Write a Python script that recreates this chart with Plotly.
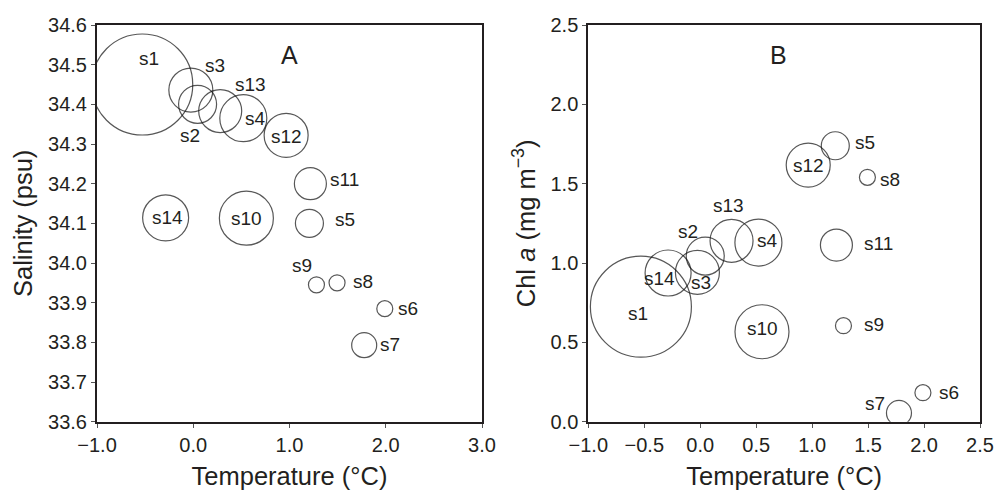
import plotly.graph_objects as go

stations = ["s1", "s2", "s3", "s4", "s5", "s6", "s7", "s8", "s9", "s10", "s11", "s12", "s13", "s14"]
temperature = [-0.53, 0.045, -0.025, 0.52, 1.207, 1.99, 1.776, 1.494, 1.28, 0.552, 1.217, 0.965, 0.28, -0.287]
salinity = [34.45, 34.40, 34.436, 34.365, 34.10, 33.885, 33.793, 33.95, 33.945, 34.113, 34.20, 34.322, 34.383, 34.114]
chl_a = [0.725, 1.044, 0.941, 1.129, 1.739, 0.183, 0.055, 1.54, 0.605, 0.567, 1.113, 1.617, 1.14, 0.937]
bubble_value = [10.1, 3.8, 4.4, 4.7, 2.8, 1.6, 2.5, 1.6, 1.6, 5.4, 3.2, 4.4, 4.3, 4.6]

x_ticks_a = [-1.0, 0.0, 1.0, 2.0, 3.0]
y_ticks_a = [33.6, 33.7, 33.8, 33.9, 34.0, 34.1, 34.2, 34.3, 34.4, 34.5, 34.6]
x_ticks_b = [-1.0, -0.5, 0.0, 0.5, 1.0, 1.5, 2.0, 2.5]
y_ticks_b = [0.0, 0.5, 1.0, 1.5, 2.0, 2.5]

# label offsets (pixels) per station for each panel
shift_a = {"s1": (7, 26), "s2": (-8, -31), "s3": (24, 25), "s4": (12, 0), "s5": (36, 4),
           "s6": (23, 0), "s7": (26, 1), "s8": (26, 1), "s9": (-14, 19), "s10": (0, 0),
           "s11": (34, 4), "s12": (0, -1), "s13": (30, 27), "s14": (2, 0)}
shift_b = {"s1": (-3, -7), "s2": (-17, 25), "s3": (4, -10), "s4": (9, 2), "s5": (30, 3),
           "s6": (26, 0), "s7": (-24, 9), "s8": (23, -2), "s9": (31, 1), "s10": (1, 3),
           "s11": (42, 2), "s12": (0, 0), "s13": (-3, 35), "s14": (-9, -5)}

INK = "#231f20"
FONT = "Liberation Sans, Arial, Helvetica, sans-serif"

W, H = 998, 490

fig = go.Figure()
marker = dict(size=bubble_value, sizemode="diameter", sizeref=0.1,
              color="rgba(0,0,0,0)", line=dict(color="#111111", width=1.2))
fig.add_trace(go.Scatter(x=temperature, y=salinity, mode="markers", marker=marker,
                         xaxis="x", yaxis="y", showlegend=False, hoverinfo="text", text=stations))
fig.add_trace(go.Scatter(x=temperature, y=chl_a, mode="markers", marker=marker,
                         xaxis="x2", yaxis="y2", showlegend=False, hoverinfo="text", text=stations))

annotations = []
for i, s in enumerate(stations):
    dx, dy = shift_a[s]
    annotations.append(dict(x=temperature[i], y=salinity[i], xref="x", yref="y", text=s,
                            showarrow=False, xshift=dx, yshift=dy,
                            xanchor="center", yanchor="middle",
                            font=dict(size=19, color=INK, family=FONT)))
    dx, dy = shift_b[s]
    annotations.append(dict(x=temperature[i], y=chl_a[i], xref="x2", yref="y2", text=s,
                            showarrow=False, xshift=dx, yshift=dy,
                            xanchor="center", yanchor="middle",
                            font=dict(size=19, color=INK, family=FONT)))
annotations.append(dict(x=0.501, y=0.924, xref="x domain", yref="y domain", text="A",
                        showarrow=False, xanchor="center", yanchor="middle",
                        font=dict(size=25, color=INK, family=FONT)))
annotations.append(dict(x=0.485, y=0.924, xref="x2 domain", yref="y2 domain", text="B",
                        showarrow=False, xanchor="center", yanchor="middle",
                        font=dict(size=25, color=INK, family=FONT)))

axis_common = dict(showgrid=False, zeroline=False, showline=True, linecolor=INK, linewidth=2,
                   mirror=True, ticks="outside", ticklen=4, tickcolor="#555555", tickwidth=1,
                   automargin=False,
                   tickfont=dict(size=20, color=INK, family=FONT),
                   title_font=dict(size=25.5, color=INK, family=FONT), tickformat=".1f")

ydom = [1 - 421.7 / H, 1 - 25 / H]
fig.update_layout(
    template="none",
    width=W, height=H, paper_bgcolor="white", plot_bgcolor="white",
    margin=dict(l=0, r=0, t=0, b=0, pad=0),
    font=dict(family=FONT, color=INK),
    xaxis=dict(axis_common, domain=[97 / W, 482 / W], range=[-1.0, 3.0],
               tickvals=x_ticks_a, title=dict(text="Temperature (°C)", standoff=15)),
    yaxis=dict(axis_common, domain=ydom, range=[33.6, 34.6], tickvals=y_ticks_a,
               title=dict(text="Salinity (psu)", standoff=8)),
    xaxis2=dict(axis_common, domain=[588.3 / W, 980 / W], range=[-1.0, 2.5],
                tickvals=x_ticks_b, anchor="y2", title=dict(text="Temperature (°C)", standoff=15)),
    yaxis2=dict(axis_common, domain=ydom, range=[0.0, 2.5], tickvals=y_ticks_b, anchor="x2",
                title=dict(text="Chl <i>a</i> (mg m<sup>−3</sup>)", standoff=8)),
    annotations=annotations,
)

fig.write_html("out.html", config={"displayModeBar": False},
               post_script="document.body.style.margin='0';document.body.style.overflow='hidden';")
